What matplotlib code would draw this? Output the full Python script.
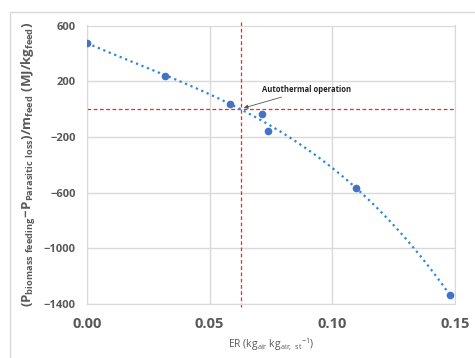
import numpy as np
import matplotlib
matplotlib.use("Agg")
import matplotlib.pyplot as plt
from matplotlib.patches import Rectangle

plt.rcParams['font.family'] = ['Open Sans', 'DejaVu Sans']
plt.rcParams['mathtext.fontset'] = 'custom'
plt.rcParams['mathtext.rm'] = 'Open Sans'
plt.rcParams['mathtext.bf'] = 'Open Sans:bold'

# data
er = [0.0, 0.0319, 0.0583, 0.0713, 0.0736, 0.1095, 0.148]
energy = [474, 240, 36, -33, -155, -564, -1337]
er_auto = 0.0629   # autothermal ER
zero_line = 0

grey = '#595959'
grid = '#d9d9d9'

fig = plt.figure(figsize=(4.75, 3.58), dpi=100)
ax = fig.add_axes([87/475, 1 - 304/358, (455-87)/475, (304-25.5)/358])

# frame around the chart
fig.patches.append(Rectangle((10/475, -0.05), 1.2, 1 - 12/358 + 0.05,
                             transform=fig.transFigure, fill=False,
                             edgecolor=grid, linewidth=1.0))

# Excel-style polynomial trendline
coef = np.polyfit(er, energy, 3)
xs = np.linspace(0, max(er), 200)
ax.plot(xs, np.polyval(coef, xs), ':', color='#2E86D9', linewidth=1.6, zorder=3)
ax.plot(er, energy, 'o', color='#4472C4', markersize=4.5, zorder=4)

ax.axhline(zero_line, color='#ff2020', linestyle='--', linewidth=0.9, dashes=(3, 2), zorder=2)
ax.axvline(er_auto, ymin=-0.01, ymax=1.02, color='#ff2020', linestyle='--',
           linewidth=0.9, dashes=(3, 2), clip_on=False, zorder=2)

ax.annotate('Autothermal operation', xy=(er_auto + 0.001, 8), xytext=(0.0715, 120),
            fontsize=5.5, fontweight='bold', color='#222222',
            arrowprops=dict(arrowstyle='-|>', color='#555555', lw=0.6,
                            shrinkA=0, shrinkB=0, mutation_scale=6))

ax.set_xlim(0, 0.15)
ax.set_ylim(-1400, 600)
ax.set_xticks([0, 0.05, 0.10, 0.15])
ax.set_xticklabels(['0.00', '0.05', '0.10', '0.15'])
ax.set_yticks([600, 200, -200, -600, -1000, -1400])
ax.grid(True, color=grid, linewidth=1.0)
ax.set_axisbelow(True)
for s in ax.spines.values():
    s.set_color(grid)
ax.tick_params(length=0, colors=grey)
for lab in ax.get_xticklabels():
    lab.set_fontsize(10.5)
    lab.set_fontweight('bold')
for lab in ax.get_yticklabels():
    lab.set_fontsize(8)
    lab.set_fontweight('bold')
ax.tick_params(axis='x', pad=9)
ax.tick_params(axis='y', pad=8)

ax.set_xlabel(r'ER (kg$_{\mathrm{air}}$ kg$_{\mathrm{air,\ st}}$$^{-1}$)', fontsize=7.5, color=grey, labelpad=4)
ax.set_ylabel(r'$\mathbf{(P_{biomass\ feeding}\!-\!P_{Parasitic\ loss})/m_{feed}\ (MJ/kg_{feed})}$',
              fontsize=9.5, color=grey, labelpad=4)

fig.savefig('out.png', dpi=100)
